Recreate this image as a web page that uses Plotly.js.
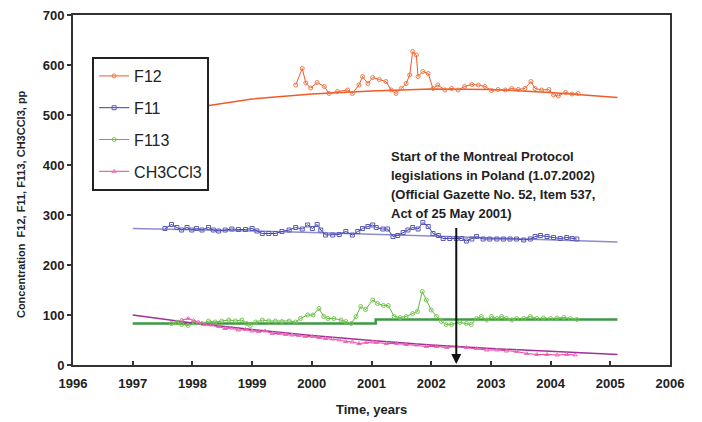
<!DOCTYPE html>
<html>
<head>
<meta charset="utf-8">
<script src="https://cdn.plot.ly/plotly-3.0.1.min.js"></script>
<style>html,body{margin:0;padding:0;background:#fff;}#chart{width:702px;height:422px;}</style>
</head>
<body>
<div id="chart"></div>
<script>
// ---- Data ----
const f12Years = [1999.73,1999.84,1999.90,1999.98,2000.09,2000.21,2000.29,2000.43,2000.60,2000.68,2000.79,2000.85,2000.94,2001.02,2001.13,2001.24,2001.33,2001.41,2001.50,2001.58,2001.64,2001.69,2001.75,2001.78,2001.86,2001.95,2002.03,2002.11,2002.23,2002.34,2002.45,2002.56,2002.68,2002.79,2002.90,2003.01,2003.12,2003.24,2003.35,2003.46,2003.57,2003.67,2003.74,2003.85,2003.97,2004.05,2004.13,2004.25,2004.36,2004.46];
const f12Values = [560,593,564,554,565,557,543,547,550,543,560,577,563,575,571,567,550,543,553,563,580,627,620,577,587,583,553,560,550,553,550,557,561,560,557,549,551,550,553,551,553,567,553,550,551,540,538,545,542,543];
const f12TrendYears = [1997,1998,1999,2000,2001,2002,2003,2004,2005.12];
const f12TrendValues = [498,514,532,542,548,552,551,545,535];

const f11Years = [1997.54,1997.65,1997.74,1997.82,1997.91,1997.99,1998.07,1998.16,1998.27,1998.35,1998.44,1998.55,1998.66,1998.77,1998.89,1999.00,1999.08,1999.17,1999.28,1999.39,1999.50,1999.62,1999.73,1999.84,1999.93,2000.01,2000.09,2000.15,2000.23,2000.35,2000.46,2000.57,2000.68,2000.77,2000.85,2000.94,2001.02,2001.08,2001.19,2001.27,2001.36,2001.44,2001.53,2001.61,2001.69,2001.78,2001.86,2001.95,2002.03,2002.12,2002.20,2002.31,2002.42,2002.51,2002.59,2002.68,2002.76,2002.87,2002.98,2003.10,2003.21,2003.32,2003.43,2003.55,2003.66,2003.74,2003.83,2003.94,2004.05,2004.16,2004.27,2004.36,2004.44];
const f11Values = [273,281,275,270,275,270,273,270,275,270,268,270,272,271,271,273,268,263,263,263,267,270,275,272,280,273,281,270,260,260,261,267,260,267,273,277,280,275,272,272,257,259,265,270,275,272,285,277,263,259,253,253,253,253,248,252,257,252,252,252,252,252,252,250,252,257,259,257,255,253,255,253,252];
const f11TrendYears = [1997,1998,1999,2000,2001,2002,2003,2004,2005.12];
const f11TrendValues = [273,271,268,265,262,258,254,250,246];

const f113Years = [1997.65,1997.74,1997.82,1997.93,1998.04,1998.16,1998.27,1998.38,1998.49,1998.61,1998.72,1998.83,1998.91,1998.97,1999.06,1999.17,1999.28,1999.39,1999.50,1999.62,1999.73,1999.81,1999.93,2000.02,2000.12,2000.20,2000.27,2000.37,2000.49,2000.57,2000.66,2000.74,2000.82,2000.90,2001.02,2001.10,2001.20,2001.28,2001.38,2001.48,2001.58,2001.69,2001.77,2001.85,2001.92,2002.00,2002.09,2002.17,2002.25,2002.34,2002.48,2002.59,2002.67,2002.76,2002.84,2002.93,2003.01,2003.10,2003.18,2003.26,2003.35,2003.43,2003.55,2003.66,2003.77,2003.88,2004.00,2004.11,2004.22,2004.33,2004.44];
const f113Values = [83,85,81,79,85,83,88,86,88,90,88,90,83,79,86,90,88,88,87,88,86,93,100,100,113,97,93,93,90,87,83,97,117,111,130,123,119,119,97,95,97,103,107,147,130,110,97,87,81,81,85,83,81,93,97,90,97,93,97,93,90,93,93,97,93,94,93,94,95,93,91];
const f113TrendYears = [1997,2001.07,2001.07,2005.12];
const f113TrendValues = [83,83,91,91];

const ch3Years = [1997.82,1997.93,1998.02,1998.10,1998.21,1998.32,1998.44,1998.55,1998.66,1998.77,1998.89,1999.00,1999.11,1999.22,1999.34,1999.45,1999.56,1999.67,1999.78,1999.89,2000.01,2000.12,2000.23,2000.35,2000.46,2000.57,2000.68,2000.79,2000.91,2001.02,2001.08,2001.25,2001.42,2001.58,2001.75,2001.92,2002.09,2002.26,2002.42,2002.59,2002.76,2002.93,2003.10,2003.26,2003.43,2003.60,2003.77,2003.94,2004.11,2004.27,2004.41];
const ch3Values = [90,93,89,86,81,80,77,73,74,70,71,68,67,68,63,63,61,60,59,57,57,55,53,52,50,47,46,43,45,46,45,43,43,41,40,37,37,35,37,35,33,30,30,28,27,23,21,21,20,21,20];
const ch3TrendYears = [1997,1998,1999,2000,2001,2002,2003,2004,2005.12];
const ch3TrendValues = [100,84,71,59,49,40,33,27,21];

const seriesNames = ["F12","F11","F113","CH3CCl3"];
const xTickVals = [1996,1997,1998,1999,2000,2001,2002,2003,2004,2005,2006];
const yTickVals = [0,100,200,300,400,500,600,700];
const noteLines = ["Start of the Montreal Protocol","legislations in Poland (1.07.2002)","(Official Gazette No. 52, Item 537,","Act of 25 May 2001)"];
const yTitle = "Concentration  F12, F11, F113, CH3CCl3, pp";
const xTitle = "Time, years";
const arrowYear = 2002.42;

// ---- Traces ----
const traces = [
  {x:f12TrendYears,y:f12TrendValues,mode:'lines',line:{color:'#f05a28',width:1.5},showlegend:false,hoverinfo:'skip'},
  {x:f11TrendYears,y:f11TrendValues,mode:'lines',line:{color:'#8c8cd0',width:1.5},showlegend:false,hoverinfo:'skip'},
  {x:f113TrendYears,y:f113TrendValues,mode:'lines',line:{color:'#3c9a46',width:2.5},showlegend:false,hoverinfo:'skip'},
  {x:ch3TrendYears,y:ch3TrendValues,mode:'lines',line:{color:'#a0309a',width:1.5},showlegend:false,hoverinfo:'skip'},
  {x:f12Years,y:f12Values,name:seriesNames[0],legendgroup:'a',mode:'lines+markers',line:{color:'#f05a28',width:1},marker:{symbol:'circle-open',size:4,color:'#f07a48'}},
  {x:f11Years,y:f11Values,name:seriesNames[1],legendgroup:'b',mode:'lines+markers',line:{color:'#3c3ca8',width:1},marker:{symbol:'square-open',size:4,color:'#5a5ab8'}},
  {x:f113Years,y:f113Values,name:seriesNames[2],legendgroup:'c',mode:'lines+markers',line:{color:'#5cb83c',width:1},marker:{symbol:'circle-open',size:4,color:'#78c850'}},
  {x:ch3Years,y:ch3Values,name:seriesNames[3],legendgroup:'d',mode:'lines+markers',line:{color:'#e8409c',width:1},marker:{symbol:'triangle-up-open',size:4,color:'#f070b8'}}
];

const FONT = 'Arial, Liberation Sans, sans-serif';
const annotations = noteLines.map((t,i)=>({
  x:2001.29, y:436 - i*38, xref:'x', yref:'y', xanchor:'left', yanchor:'top',
  text:'<b>'+t+'</b>', showarrow:false, font:{family:FONT,size:13,color:'#222'}
}));
annotations.push({
  x:arrowYear, y:2, xref:'x', yref:'y', ax:arrowYear, ay:277, axref:'x', ayref:'y',
  showarrow:true, arrowhead:2, arrowsize:1, arrowwidth:2, arrowcolor:'#111', text:''
});
annotations.push({
  x:-0.087, y:0.46, xref:'paper', yref:'paper', xanchor:'center', yanchor:'middle',
  text:'<b>'+yTitle+'</b>', textangle:-90, showarrow:false, font:{family:FONT,size:11,color:'#222'}
});
annotations.push({
  x:0.5, y:-0.1, xref:'paper', yref:'paper', xanchor:'center', yanchor:'top',
  text:'<b>'+xTitle+'</b>', showarrow:false, font:{family:FONT,size:13,color:'#222'}
});

const layout = {
  width:702, height:422,
  margin:{l:73,r:32,t:15,b:57},
  paper_bgcolor:'#fff', plot_bgcolor:'#fff',
  font:{family:FONT,color:'#222'},
  xaxis:{range:[1996,2006],tickvals:xTickVals,ticktext:xTickVals.map(v=>'<b>'+v+'</b>'),ticks:'inside',ticklen:4,tickwidth:2,tickcolor:'#333',
    showgrid:false,zeroline:false,showline:true,linecolor:'#333',linewidth:2,mirror:true,ticklabelstandoff:5,
    tickfont:{size:13,color:'#222'}},
  yaxis:{range:[0,700],tickvals:yTickVals,ticktext:yTickVals.map(v=>'<b>'+v+'</b>'),ticks:'outside',ticklen:4,tickwidth:2,tickcolor:'#333',
    showgrid:false,zeroline:false,showline:true,linecolor:'#333',linewidth:2,mirror:true,
    tickfont:{size:13,color:'#222'}},
  legend:{x:0.032,y:0.88,xanchor:'left',yanchor:'top',bgcolor:'#fff',bordercolor:'#222',borderwidth:2,
    font:{size:16,color:'#222'},tracegroupgap:8,itemwidth:30},
  annotations:annotations,
  showlegend:true
};

Plotly.newPlot('chart',traces,layout,{staticPlot:true,displayModeBar:false});
</script>
</body>
</html>
